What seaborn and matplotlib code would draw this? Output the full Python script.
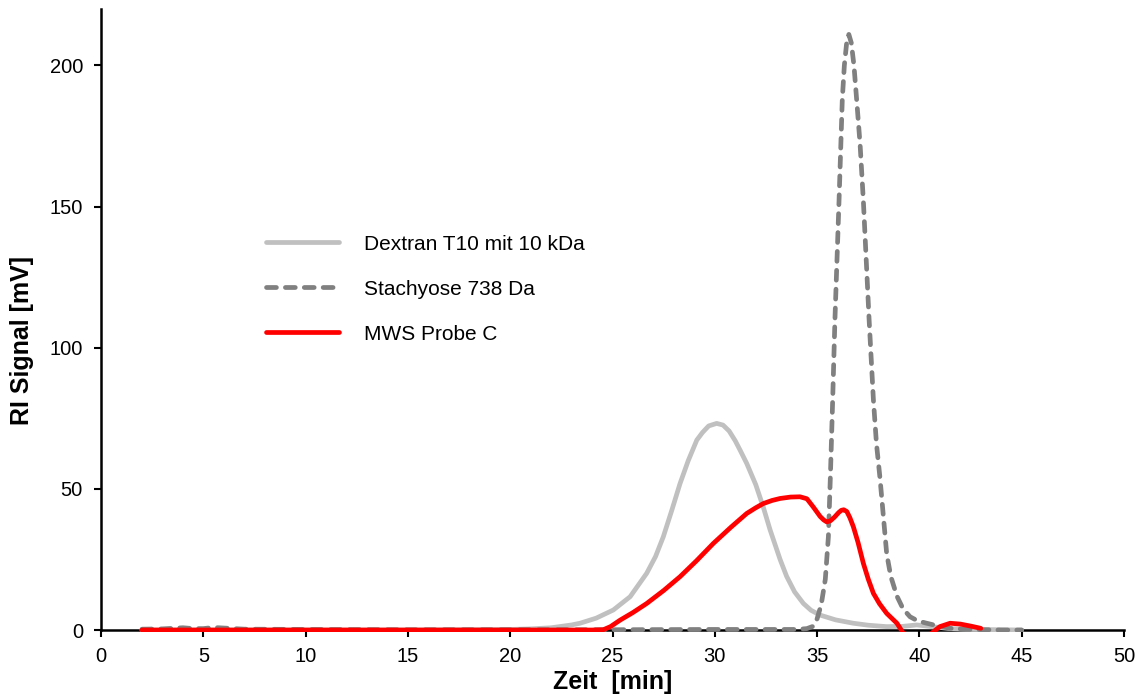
import numpy as np
import pandas as pd
import matplotlib
matplotlib.use("Agg")
import matplotlib.pyplot as plt
import seaborn as sns
from matplotlib.patches import Rectangle

# ---------------- data ----------------
dextran_x = [2, 5, 10, 15, 20, 21, 22, 23, 23.41, 24.2, 25.04, 25.86, 26.67,
             27.1, 27.48, 27.9, 28.3, 28.7, 29.12, 29.4, 29.7, 30.09, 30.4,
             30.7, 31.0, 31.25, 31.56, 32.0, 32.37, 32.7, 33.19, 33.51, 33.9,
             34.33, 34.7, 35.14, 35.9, 36.77, 37.5, 38.4, 39.2, 39.87, 40.6,
             41.5, 42.5, 44, 45]
dextran_y = [0, 0, 0, 0, 0.2, 0.4, 0.8, 1.8, 2.4, 4.2, 7.1, 11.8, 20.1,
             26, 33, 42.5, 51.9, 60, 67.3, 70, 72.3, 73.2, 72.6,
             70.5, 67, 63.5, 59, 51.5, 43.5, 35.5, 25, 19, 13.5,
             9.4, 7, 5.3, 3.6, 2.4, 1.7, 1.2, 1.3, 1.8, 1.2,
             0.5, 0.2, 0.1, 0]

stachyose_x = [2, 3, 3.5, 4, 4.5, 5, 5.5, 6, 7, 10, 15, 20, 25, 30, 34, 34.5,
               34.8, 35.0, 35.2, 35.4, 35.55, 35.65, 35.76, 35.87, 36.07, 36.23,
               36.33, 36.45, 36.55, 36.67, 36.8, 36.93, 37.1, 37.26, 37.54,
               37.75, 37.9, 38.07, 38.4, 38.6, 38.9, 39.2, 39.54, 39.9, 40.3,
               40.7, 41.5, 42.5, 44, 45]
stachyose_y = [0.3, 0.4, 0.6, 0.8, 0.5, 0.5, 0.9, 0.7, 0.3, 0.2, 0.1, 0.1, 0.1,
               0.2, 0.2, 0.5, 1.3, 4, 9, 18, 33, 55, 81.6, 110, 152, 188,
               200, 208.5, 211, 208, 200, 188, 172, 152, 110,
               81.6, 66, 54, 27, 19, 12, 7.5, 4.7, 3.3, 2.5,
               1.8, 0.6, 0.2, 0, 0]

probe_x = [2, 5, 10, 15, 20, 24, 24.55, 24.9, 25.37, 26.0, 26.67, 27.5, 28.3,
           29.1, 29.93, 30.8, 31.56, 32.0, 32.37, 32.8, 33.19, 33.7, 34.16,
           34.5, 34.81, 35.15, 35.32, 35.47, 35.65, 35.85, 36.05, 36.18, 36.3,
           36.45, 36.6, 36.77, 37.0, 37.26, 37.5, 37.75, 38.05, 38.4, 38.9,
           39.2, 39.5, 40.0, 40.4, 40.7, 41.0, 41.5, 42.0, 42.5, 43.0]
probe_y = [0, 0, 0, 0, 0, 0, 0.1, 1.2, 3.5, 6.2, 9.4, 14, 18.9,
           24.5, 30.7, 36.5, 41.3, 43.3, 44.8, 45.9, 46.6, 47.1, 47.2,
           46.5, 43.6, 40.2, 39.0, 38.3, 38.7, 40.0, 41.6, 42.4, 42.6,
           42.0, 39.8, 36.6, 31, 23.6, 18, 13, 9.3, 5.9, 2.4,
           -1, -4, -4, -2.5, -0.5, 1.2, 2.4, 2.1, 1.4, 0.6]

labels = ["Dextran T10 mit 10 kDa", "Stachyose 738 Da", "MWS Probe C"]
x_ticks = [0, 5, 10, 15, 20, 25, 30, 35, 40, 45, 50]
y_ticks = [0, 50, 100, 150, 200]

# ---------------- style ----------------
sns.set_style("white")
plt.rcParams["font.family"] = ["Liberation Sans", "DejaVu Sans"]

fig = plt.figure(figsize=(11.43, 6.98), dpi=100)
ax = fig.add_axes([0.0884, 0.0974, 0.8950, 0.8897])

df_d = pd.DataFrame({"x": dextran_x, "y": dextran_y})
df_s = pd.DataFrame({"x": stachyose_x, "y": stachyose_y})
df_p = pd.DataFrame({"x": probe_x, "y": probe_y})

LW = 3.4
sns.lineplot(data=df_d, x="x", y="y", ax=ax, color="#C0C0C0", linewidth=LW,
             label=labels[0], sort=False, estimator=None)
sns.lineplot(data=df_s, x="x", y="y", ax=ax, color="#808080", linewidth=LW,
             label=labels[1], sort=False, estimator=None, linestyle="--")
sns.lineplot(data=df_p, x="x", y="y", ax=ax, color="#FF0000", linewidth=LW,
             label=labels[2], sort=False, estimator=None)

clip = Rectangle((0, -0.004), 1, 1.004, transform=ax.transAxes,
                 facecolor="none", edgecolor="none")
lines = ax.get_lines()
for ln in lines:
    ln.set_zorder(3)
    ln.set_clip_path(clip)
    ln.set_solid_capstyle("round")
    ln.set_solid_joinstyle("round")
lines[1].set_dashes((2.1, 1.9))
lines[1].set_dash_capstyle("round")
lines[1].set_dash_joinstyle("round")

ax.set_xlim(0, 50)
ax.set_ylim(0, 220)
ax.set_xticks(x_ticks)
ax.set_yticks(y_ticks)
ax.tick_params(axis="both", which="major", direction="out", length=5,
               width=1.5, color="black", labelsize=14.5, labelcolor="black",
               bottom=True, left=True)
ax.tick_params(axis="x", pad=7)
ax.tick_params(axis="y", pad=8)

for side in ["top", "right"]:
    ax.spines[side].set_visible(False)
for side in ["left", "bottom"]:
    ax.spines[side].set_color("black")
    ax.spines[side].set_linewidth(1.8)

ax.set_xlabel("Zeit  [min]", fontsize=18, fontweight="bold", color="black")
ax.set_ylabel("RI Signal [mV]", fontsize=18, fontweight="bold", color="black")
ax.xaxis.set_label_coords(0.5, -0.064)
ax.yaxis.set_label_coords(-0.066, 0.467)

leg = ax.legend(loc="center left", bbox_to_anchor=(0.161, 0.549),
                frameon=False, fontsize=15, handlelength=3.5,
                handletextpad=1.2, labelspacing=1.25, borderpad=0,
                borderaxespad=0)
for t in leg.get_texts():
    t.set_color("black")
for h in leg.get_lines():
    h.set_linewidth(LW)
    h.set_solid_capstyle("round")
leg.get_lines()[1].set_dashes((2.1, 1.9))
leg.get_lines()[1].set_dash_capstyle("round")

fig.savefig("out.png", dpi=100)
